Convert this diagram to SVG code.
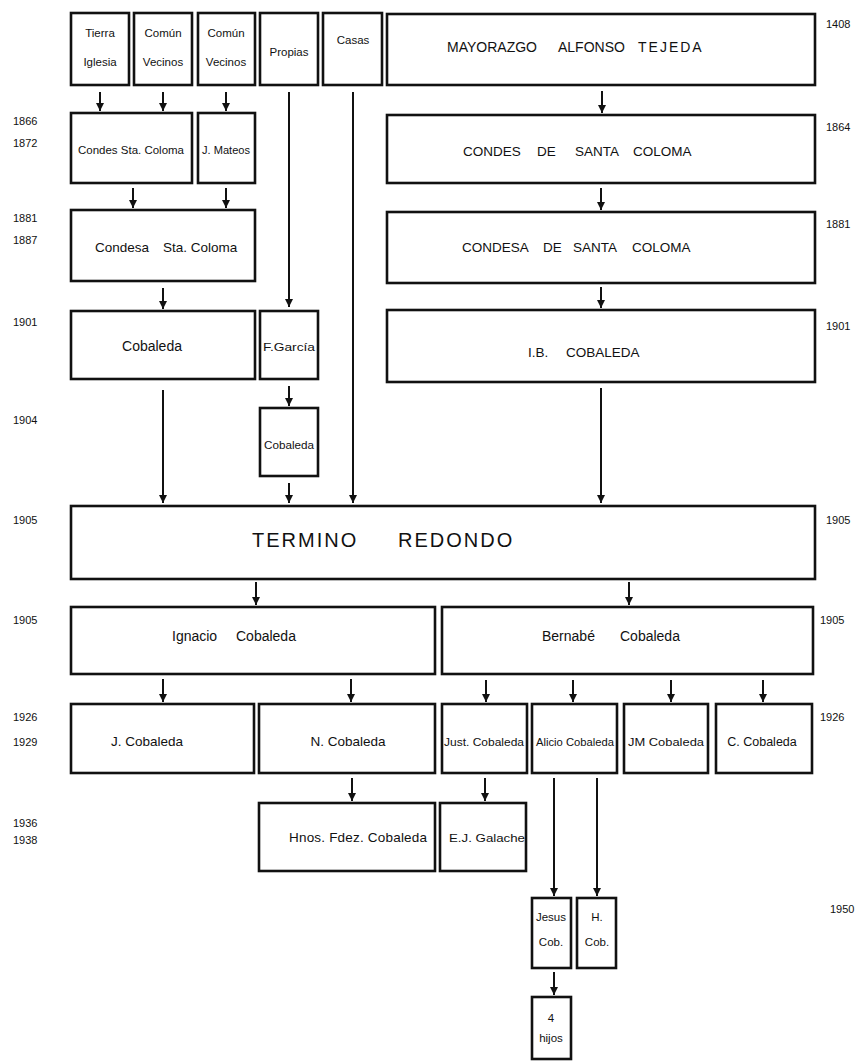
<svg xmlns="http://www.w3.org/2000/svg" width="863" height="1063" viewBox="0 0 863 1063">
<style>
.box{fill:#fff;stroke:#111;stroke-width:2.6}
.t{font-family:"Liberation Sans",Arial,sans-serif;font-size:11.5px;fill:#111;text-anchor:middle}
.w{font-family:"Liberation Sans",Arial,sans-serif;font-size:13.5px;fill:#111;text-anchor:middle}
.s{font-family:"Liberation Sans",Arial,sans-serif;font-size:13.5px;fill:#111}
.c{font-family:"Liberation Sans",Arial,sans-serif;font-size:13.5px;fill:#111}
.y{font-family:"Liberation Sans",Arial,sans-serif;font-size:11px;fill:#111}
.ln{fill:none;stroke:#111;stroke-width:2;marker-end:url(#ah)}
</style>
<defs>
<marker id="ah" markerUnits="userSpaceOnUse" markerWidth="9" markerHeight="9" refX="8" refY="4.5" orient="auto">
<path d="M0,0.5 L8,4.5 L0,8.5 z" fill="#111"/>
</marker>
</defs>
<rect width="863" height="1063" fill="#fff"/>

<g id="years">
<text class="y" x="13" y="125">1866</text>
<text class="y" x="13" y="147">1872</text>
<text class="y" x="13" y="222">1881</text>
<text class="y" x="13" y="244">1887</text>
<text class="y" x="13" y="326">1901</text>
<text class="y" x="13" y="424">1904</text>
<text class="y" x="13" y="524">1905</text>
<text class="y" x="13" y="624">1905</text>
<text class="y" x="13" y="721">1926</text>
<text class="y" x="13" y="746">1929</text>
<text class="y" x="13" y="827">1936</text>
<text class="y" x="13" y="844">1938</text>
<text class="y" x="826" y="28">1408</text>
<text class="y" x="826" y="131">1864</text>
<text class="y" x="826" y="228">1881</text>
<text class="y" x="826" y="330">1901</text>
<text class="y" x="826" y="524">1905</text>
<text class="y" x="820" y="624">1905</text>
<text class="y" x="820" y="721">1926</text>
<text class="y" x="830" y="913">1950</text>
</g>

<g id="connectors">
<line class="ln" x1="100" y1="92" x2="100" y2="111"/>
<line class="ln" x1="163" y1="92" x2="163" y2="111"/>
<line class="ln" x1="226" y1="92" x2="226" y2="111"/>
<line class="ln" x1="602" y1="91" x2="602" y2="113"/>
<line class="ln" x1="289" y1="92" x2="289" y2="307"/>
<line class="ln" x1="353" y1="92" x2="353" y2="503"/>
<line class="ln" x1="133" y1="188" x2="133" y2="208"/>
<line class="ln" x1="226" y1="188" x2="226" y2="208"/>
<line class="ln" x1="601" y1="188" x2="601" y2="210"/>
<line class="ln" x1="163" y1="288" x2="163" y2="309"/>
<line class="ln" x1="601" y1="287" x2="601" y2="308"/>
<line class="ln" x1="289" y1="386" x2="289" y2="406"/>
<line class="ln" x1="163" y1="390" x2="163" y2="503"/>
<line class="ln" x1="601" y1="388" x2="601" y2="503"/>
<line class="ln" x1="289" y1="483" x2="289" y2="503"/>
<line class="ln" x1="256" y1="582" x2="256" y2="605"/>
<line class="ln" x1="629" y1="582" x2="629" y2="605"/>
<line class="ln" x1="163" y1="679" x2="163" y2="702"/>
<line class="ln" x1="351" y1="679" x2="351" y2="702"/>
<line class="ln" x1="486" y1="680" x2="486" y2="702"/>
<line class="ln" x1="573" y1="680" x2="573" y2="702"/>
<line class="ln" x1="671" y1="680" x2="671" y2="702"/>
<line class="ln" x1="763" y1="680" x2="763" y2="702"/>
<line class="ln" x1="352" y1="778" x2="352" y2="801"/>
<line class="ln" x1="485" y1="778" x2="485" y2="801"/>
<line class="ln" x1="554" y1="778" x2="554" y2="896"/>
<line class="ln" x1="597" y1="778" x2="597" y2="896"/>
<line class="ln" x1="554" y1="972" x2="554" y2="995"/>
</g>

<g id="tierra-iglesia"><rect class="box" x="71" y="13" width="58" height="72"/><text class="t" x="100" y="37">Tierra</text><text class="t" x="100" y="66">Iglesia</text></g>
<g id="comun-vecinos-1"><rect class="box" x="134" y="13" width="58" height="72"/><text class="t" x="163" y="37">Común</text><text class="t" x="163" y="66">Vecinos</text></g>
<g id="comun-vecinos-2"><rect class="box" x="198" y="13" width="57" height="72"/><text class="t" x="226" y="37">Común</text><text class="t" x="226" y="66">Vecinos</text></g>
<g id="propias"><rect class="box" x="260" y="13" width="58" height="72"/><text class="t" x="289" y="56">Propias</text></g>
<g id="casas"><rect class="box" x="323" y="13" width="59" height="72"/><text class="t" x="353" y="44">Casas</text></g>
<g id="mayorazgo"><rect class="box" x="387" y="14" width="428" height="71"/><text class="c" y="52" style="font-size:14px"><tspan x="447">MAYORAZGO</tspan><tspan x="558">ALFONSO</tspan><tspan x="638" style="letter-spacing:2px">TEJEDA</tspan></text></g>

<g id="condes-sta-coloma"><rect class="box" x="71" y="113" width="121" height="70"/><text class="t" x="131" y="154" textLength="106" lengthAdjust="spacingAndGlyphs">Condes Sta. Coloma</text></g>
<g id="j-mateos"><rect class="box" x="198" y="113" width="57" height="70"/><text class="t" x="226" y="154" textLength="48" lengthAdjust="spacingAndGlyphs">J. Mateos</text></g>
<g id="condes-de-santa-coloma"><rect class="box" x="387" y="115" width="428" height="68"/><text class="c" y="156"><tspan x="463">CONDES</tspan><tspan x="537">DE</tspan><tspan x="575">SANTA</tspan><tspan x="633">COLOMA</tspan></text></g>

<g id="condesa-sta-coloma"><rect class="box" x="71" y="210" width="184" height="71"/><text class="s" y="252"><tspan x="95">Condesa</tspan><tspan x="163">Sta. Coloma</tspan></text></g>
<g id="condesa-de-santa-coloma"><rect class="box" x="387" y="212" width="428" height="71"/><text class="c" y="252"><tspan x="462">CONDESA</tspan><tspan x="543">DE</tspan><tspan x="573">SANTA</tspan><tspan x="632">COLOMA</tspan></text></g>

<g id="cobaleda-1901"><rect class="box" x="71" y="311" width="184" height="68"/><text class="w" x="152" y="351" style="font-size:14px">Cobaleda</text></g>
<g id="f-garcia"><rect class="box" x="260" y="311" width="58" height="68"/><text class="t" x="289" y="351" textLength="52" lengthAdjust="spacingAndGlyphs">F.García</text></g>
<g id="ib-cobaleda"><rect class="box" x="387" y="310" width="428" height="72"/><text class="c" y="357"><tspan x="528">I.B.</tspan><tspan x="566">COBALEDA</tspan></text></g>

<g id="cobaleda-1904"><rect class="box" x="260" y="408" width="58" height="68"/><text class="t" x="289" y="449" textLength="50" lengthAdjust="spacingAndGlyphs">Cobaleda</text></g>

<g id="termino-redondo"><rect class="box" x="71" y="506" width="744" height="73"/><text class="c" y="547" style="font-size:20px;letter-spacing:2px"><tspan x="252">TERMINO</tspan><tspan x="398">REDONDO</tspan></text></g>

<g id="ignacio-cobaleda"><rect class="box" x="71" y="607" width="364" height="67"/><text class="s" y="641" style="font-size:14px"><tspan x="172">Ignacio</tspan><tspan x="236">Cobaleda</tspan></text></g>
<g id="bernabe-cobaleda"><rect class="box" x="442" y="607" width="371" height="67"/><text class="s" y="641" style="font-size:14px"><tspan x="542">Bernabé</tspan><tspan x="620">Cobaleda</tspan></text></g>

<g id="j-cobaleda"><rect class="box" x="71" y="704" width="183" height="69"/><text class="w" x="147" y="746">J. Cobaleda</text></g>
<g id="n-cobaleda"><rect class="box" x="259" y="704" width="176" height="69"/><text class="w" x="348" y="746">N. Cobaleda</text></g>
<g id="just-cobaleda"><rect class="box" x="442" y="704" width="85" height="69"/><text class="t" x="484" y="746" textLength="80" lengthAdjust="spacingAndGlyphs">Just. Cobaleda</text></g>
<g id="alicio-cobaleda"><rect class="box" x="532" y="704" width="85" height="69"/><text class="t" x="575" y="746" textLength="78" lengthAdjust="spacingAndGlyphs">Alicio Cobaleda</text></g>
<g id="jm-cobaleda"><rect class="box" x="624" y="704" width="84" height="69"/><text class="t" x="666" y="746" textLength="76" lengthAdjust="spacingAndGlyphs">JM Cobaleda</text></g>
<g id="c-cobaleda"><rect class="box" x="716" y="704" width="96" height="69"/><text class="t" x="762" y="746" style="font-size:12.5px">C. Cobaleda</text></g>

<g id="hnos-fdez-cobaleda"><rect class="box" x="259" y="803" width="176" height="68"/><text class="w" x="358" y="842" textLength="138">Hnos. Fdez. Cobaleda</text></g>
<g id="ej-galache"><rect class="box" x="440" y="803" width="86" height="68"/><text class="t" x="487" y="842" textLength="76" lengthAdjust="spacingAndGlyphs">E.J. Galache</text></g>

<g id="jesus-cob"><rect class="box" x="532" y="898" width="39" height="70"/><text class="t" x="551" y="921">Jesus</text><text class="t" x="551" y="946">Cob.</text></g>
<g id="h-cob"><rect class="box" x="577" y="898" width="39" height="70"/><text class="t" x="597" y="921">H.</text><text class="t" x="597" y="946">Cob.</text></g>
<g id="cuatro-hijos"><rect class="box" x="532" y="997" width="39" height="62"/><text class="t" x="551" y="1022">4</text><text class="t" x="551" y="1042">hijos</text></g>
</svg>
